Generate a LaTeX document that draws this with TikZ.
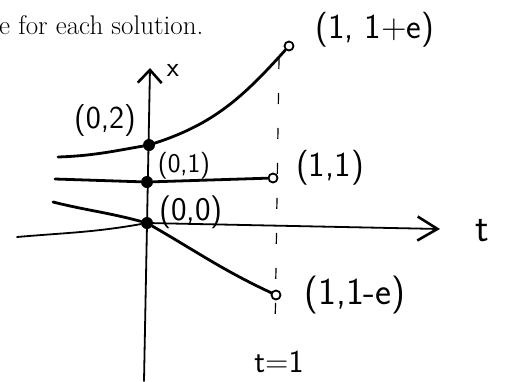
\documentclass[tikz,border=0pt]{standalone}
\usepackage{fontspec}
\usetikzlibrary{arrows.meta}

\begin{document}
\begin{tikzpicture}[x=1pt,y=-1pt,
hand/.style={font=\sffamily\fontsize{#1}{#1}\selectfont,inner sep=0pt},
hand/.default=30,
printed/.style={font=\fontsize{27}{30}\selectfont,inner sep=0pt},
sol/.style={line width=2.8pt,line cap=round},
axis/.style={line width=1.8pt,line cap=round},
guide/.style={line width=1.2pt,dash pattern=on 11pt off 24pt},
dot/.style={circle,fill,inner sep=0pt,minimum size=12pt},
hole/.style={circle,draw,fill=white,line width=1.8pt,inner sep=0pt,minimum size=9pt},
barb/.style={-{Straight Barb[length=#1,width=24pt,line width=2.6pt]}} ]

\useasboundingbox (0,0) rectangle (508,381);

\coordinate (xbot) at (144,381);
\coordinate (xtop) at (150,68);
\coordinate (tleft) at (17,237);
\coordinate (tright) at (440,229);
\coordinate (dtop) at (279,58);
\coordinate (dbot) at (275,335);
\coordinate (a2) at (58,157);
\coordinate (a1) at (55,179);
\coordinate (a0) at (53,202);

\draw[guide] (dtop) -- (dbot);

\draw[axis,barb=13pt] (xbot) -- (xtop);

\node[dot](p02) at (149,145) {};

\node[dot](p01) at (147,182) {};

\node[dot](p00) at (147,223) {};

\node[hole](q1e) at (289,46) {};

\node[hole](q11) at (273,178) {};

\node[hole](q1me) at (276,295) {};

\draw[axis,barb=20pt] (tleft) to[out=5,in=190] (p00) -- (tright);

\draw[sol] (a2) to[out=2,in=190] (p02) to[out=18,in=228] (q1e);

\draw[sol] (a1) -- (p01) -- (q11);

\draw[sol] (a0) to[out=-14,in=165] (p00) to[out=-30,in=155] (q1me);

\node[printed,anchor=base west](head) at (-1,34) {e for each solution.};

\node[hand=35](l1e) at (375,30) {(1, 1+e)};

\node[hand=32](l02) at (105,121) {(0,2)};

\node[hand=27](l01) at (184,166) {(0,1)};

\node[hand=33](l00) at (191,212) {(0,0)};

\node[hand=35](l11) at (330,168) {(1,1)};

\node[hand=38](l1me) at (355,295) {(1,1-e)};

\node[hand=40](tlab) at (482,231) {t};

\node[hand=28](xlab) at (173,70) {x};

\node[hand=32](tone) at (279,362) {t=1};
\end{tikzpicture}
\end{document}
